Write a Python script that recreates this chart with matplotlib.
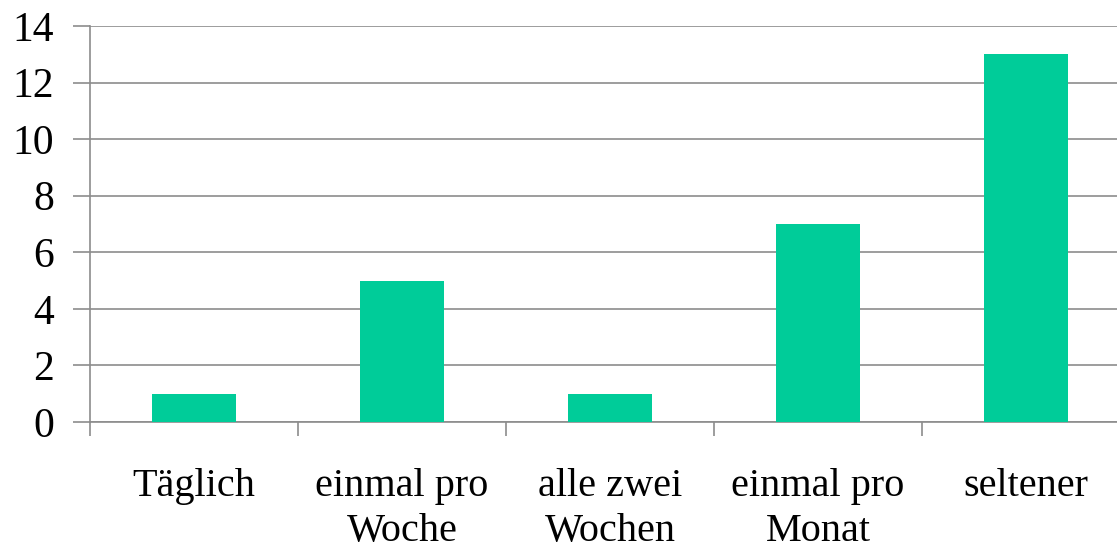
import matplotlib.pyplot as plt
import numpy as np

# DATA
categories = ["Täglich", "einmal pro\nWoche", "alle zwei\nWochen", "einmal pro\nMonat", "seltener"]
values = [1, 5, 1, 7, 13]
y_ticks = [0, 2, 4, 6, 8, 10, 12, 14]

plt.rcParams['font.family'] = ['Liberation Serif', 'DejaVu Serif']

fig = plt.figure(figsize=(11.17, 5.5), dpi=100)
W, H = 1117, 550
ax = fig.add_axes([90 / W, 1 - 422 / H, 1040 / W, (422 - 26) / H])

x = np.arange(len(categories))
ax.bar(x, values, width=0.4, color='#00CC99', zorder=3)

grid_col = '#8c8c8c'
ax.set_xlim(-0.5, len(categories) - 0.5)
ax.set_ylim(0, 14)
ax.set_yticks(y_ticks)
ax.set_yticklabels([str(v) for v in y_ticks], fontsize=30)
ax.yaxis.grid(True, color=grid_col, linewidth=1.2, zorder=0)

# x ticks sit on the category boundaries, labels centred under the bars
ax.set_xticks(np.arange(len(categories) + 1) - 0.5)
ax.set_xticklabels([])
ax.set_xticks(x, minor=True)
ax.set_xticklabels(categories, minor=True, fontsize=29, linespacing=1.28)
ax.tick_params(axis='x', which='minor', length=0, pad=33)
ax.tick_params(axis='x', which='major', length=10, color=grid_col, width=1.2)
ax.tick_params(axis='y', length=12, color=grid_col, width=1.2, pad=14)

for side in ['top', 'right']:
    ax.spines[side].set_visible(False)
for side in ['left', 'bottom']:
    ax.spines[side].set_color(grid_col)
    ax.spines[side].set_linewidth(1.2)

fig.savefig('out.png', dpi=100)
